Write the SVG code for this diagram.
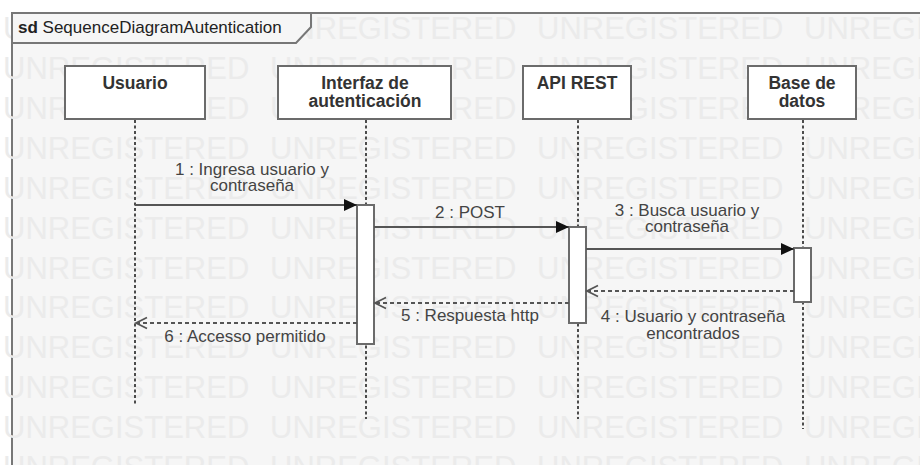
<svg xmlns="http://www.w3.org/2000/svg" width="920" height="465" viewBox="0 0 920 465">
<style>
.wm{font-family:"Liberation Sans",Arial,sans-serif;font-size:31px;fill:#ebebeb}
.box{fill:#ffffff;stroke:#6b6b6b;stroke-width:2}
.name{font-family:"Liberation Sans",Arial,sans-serif;font-size:17.5px;font-weight:bold;fill:#333;text-anchor:middle}
.life{stroke:#222;stroke-width:1.6;stroke-dasharray:3,2.5;fill:none}
.act{fill:#ffffff;stroke:#6b6b6b;stroke-width:2}
.msg{stroke:#555;stroke-width:2;fill:none}
.ret{stroke:#555;stroke-width:2;stroke-dasharray:4,3;fill:none}
.lbl{font-family:"Liberation Sans",Arial,sans-serif;font-size:17px;fill:#444;text-anchor:middle}
</style>
<defs>
<marker id="filled" markerWidth="14" markerHeight="12" refX="13" refY="6" orient="auto" markerUnits="userSpaceOnUse">
<path d="M0,0 L13,6 L0,12 Z" fill="#111"/>
</marker>
<marker id="open" markerWidth="14" markerHeight="14" refX="12" refY="7" orient="auto" markerUnits="userSpaceOnUse">
<path d="M1,1.5 L12,7 L1,12.5" fill="none" stroke="#555" stroke-width="1.8"/>
</marker>
</defs>
<rect width="920" height="465" fill="#ffffff"/>
<g id="frame">
<rect x="12" y="13" width="920" height="470" fill="#f6f6f6" stroke="#777" stroke-width="2"/>
</g>
<g id="watermark">
<text class="wm" x="3" y="39">UNREGISTERED</text><text class="wm" x="270" y="39">UNREGISTERED</text><text class="wm" x="537" y="39">UNREGISTERED</text><text class="wm" x="804" y="39">UNREGISTERED</text>
<text class="wm" x="3" y="79">UNREGISTERED</text><text class="wm" x="270" y="79">UNREGISTERED</text><text class="wm" x="537" y="79">UNREGISTERED</text><text class="wm" x="804" y="79">UNREGISTERED</text>
<text class="wm" x="3" y="119">UNREGISTERED</text><text class="wm" x="270" y="119">UNREGISTERED</text><text class="wm" x="537" y="119">UNREGISTERED</text><text class="wm" x="804" y="119">UNREGISTERED</text>
<text class="wm" x="3" y="159">UNREGISTERED</text><text class="wm" x="270" y="159">UNREGISTERED</text><text class="wm" x="537" y="159">UNREGISTERED</text><text class="wm" x="804" y="159">UNREGISTERED</text>
<text class="wm" x="3" y="199">UNREGISTERED</text><text class="wm" x="270" y="199">UNREGISTERED</text><text class="wm" x="537" y="199">UNREGISTERED</text><text class="wm" x="804" y="199">UNREGISTERED</text>
<text class="wm" x="3" y="239">UNREGISTERED</text><text class="wm" x="270" y="239">UNREGISTERED</text><text class="wm" x="537" y="239">UNREGISTERED</text><text class="wm" x="804" y="239">UNREGISTERED</text>
<text class="wm" x="3" y="279">UNREGISTERED</text><text class="wm" x="270" y="279">UNREGISTERED</text><text class="wm" x="537" y="279">UNREGISTERED</text><text class="wm" x="804" y="279">UNREGISTERED</text>
<text class="wm" x="3" y="318">UNREGISTERED</text><text class="wm" x="270" y="318">UNREGISTERED</text><text class="wm" x="537" y="318">UNREGISTERED</text><text class="wm" x="804" y="318">UNREGISTERED</text>
<text class="wm" x="3" y="358">UNREGISTERED</text><text class="wm" x="270" y="358">UNREGISTERED</text><text class="wm" x="537" y="358">UNREGISTERED</text><text class="wm" x="804" y="358">UNREGISTERED</text>
<text class="wm" x="3" y="398">UNREGISTERED</text><text class="wm" x="270" y="398">UNREGISTERED</text><text class="wm" x="537" y="398">UNREGISTERED</text><text class="wm" x="804" y="398">UNREGISTERED</text>
<text class="wm" x="3" y="438">UNREGISTERED</text><text class="wm" x="270" y="438">UNREGISTERED</text><text class="wm" x="537" y="438">UNREGISTERED</text><text class="wm" x="804" y="438">UNREGISTERED</text>
<text class="wm" x="3" y="478">UNREGISTERED</text><text class="wm" x="270" y="478">UNREGISTERED</text><text class="wm" x="537" y="478">UNREGISTERED</text><text class="wm" x="804" y="478">UNREGISTERED</text>
</g>
<g id="frame-tab">
<path d="M12,13 H311 V27 L296,43 H12 Z" fill="#f6f6f6" stroke="#777" stroke-width="2"/>
<text x="18" y="33" font-family="Liberation Sans,Arial,sans-serif" font-size="17" fill="#222"><tspan font-weight="bold">sd</tspan> SequenceDiagramAutentication</text>
</g>
<g id="lifelines">
<line class="life" x1="135" y1="120" x2="135" y2="404"/>
<line class="life" x1="366" y1="120" x2="366" y2="419"/>
<line class="life" x1="578" y1="120" x2="578" y2="419"/>
<line class="life" x1="803" y1="120" x2="803" y2="429"/>
</g>
<g id="usuario">
<rect class="box" x="65" y="66" width="140" height="53"/>
<text class="name" x="135" y="89">Usuario</text>
</g>
<g id="interfaz">
<rect class="box" x="278" y="66" width="173" height="53"/>
<text class="name" x="365" y="89">Interfaz de<tspan x="365" dy="18">autenticación</tspan></text>
</g>
<g id="api">
<rect class="box" x="523" y="66" width="108" height="53"/>
<text class="name" x="577" y="89">API REST</text>
</g>
<g id="base">
<rect class="box" x="748" y="66" width="108" height="53"/>
<text class="name" x="802" y="89">Base de<tspan x="802" dy="18">datos</tspan></text>
</g>
<g id="activations">
<rect class="act" x="357" y="205" width="17" height="139"/>
<rect class="act" x="569" y="227" width="17" height="96"/>
<rect class="act" x="794" y="248" width="17" height="54"/>
</g>
<g id="connectors">
<line class="msg" x1="135" y1="205" x2="357" y2="205" marker-end="url(#filled)"/>
<line class="msg" x1="374" y1="227" x2="569" y2="227" marker-end="url(#filled)"/>
<line class="msg" x1="586" y1="249" x2="794" y2="249" marker-end="url(#filled)"/>
<line class="ret" x1="794" y1="291" x2="587" y2="291" marker-end="url(#open)"/>
<line class="ret" x1="569" y1="303" x2="375" y2="303" marker-end="url(#open)"/>
<line class="ret" x1="357" y1="323" x2="136" y2="323" marker-end="url(#open)"/>
</g>
<g id="labels">
<text class="lbl" x="252" y="175">1 : Ingresa usuario y<tspan x="252" dy="16">contraseña</tspan></text>
<text class="lbl" x="470" y="218">2 : POST</text>
<text class="lbl" x="687" y="216">3 : Busca usuario y<tspan x="687" dy="16">contraseña</tspan></text>
<text class="lbl" x="693" y="322">4 : Usuario y contraseña<tspan x="693" dy="17">encontrados</tspan></text>
<text class="lbl" x="470" y="321">5 : Respuesta http</text>
<text class="lbl" x="245" y="342">6 : Accesso permitido</text>
</g>
</svg>
